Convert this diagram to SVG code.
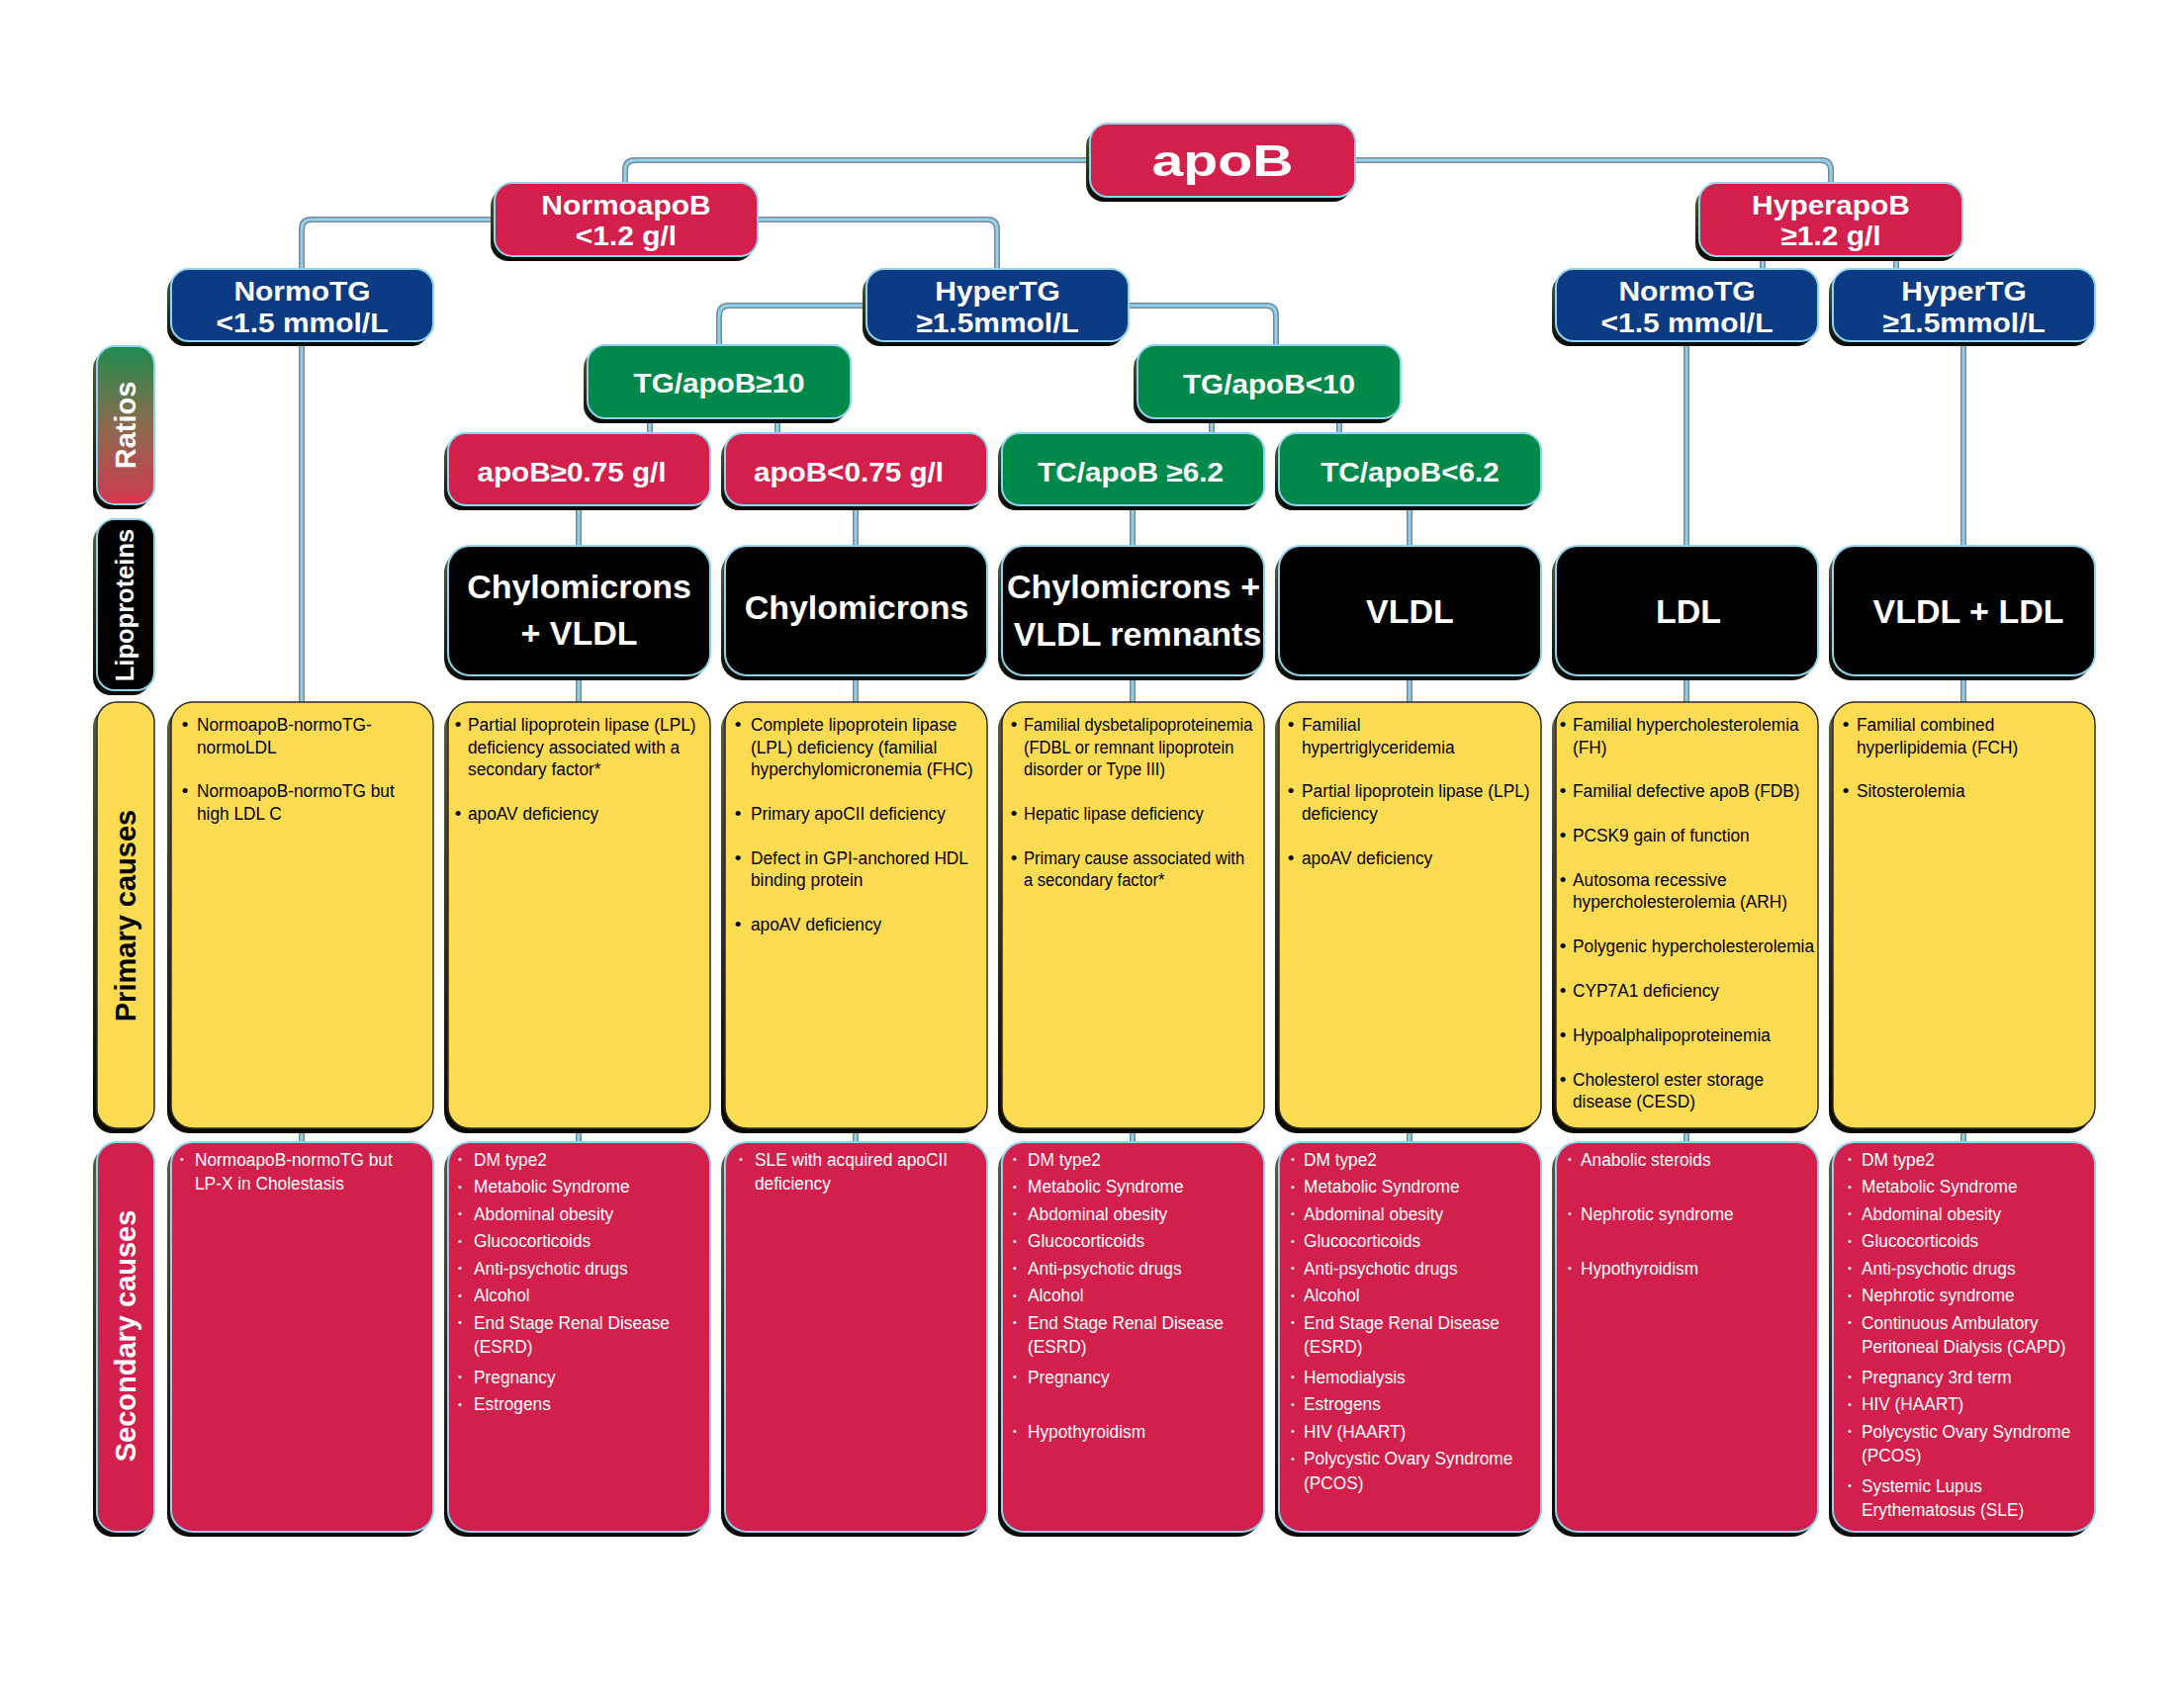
<svg xmlns="http://www.w3.org/2000/svg" xmlns:xlink="http://www.w3.org/1999/xlink" width="2208" height="1706" viewBox="0 0 2208 1706">
<defs>
<style>
.sh{fill:url(#shG)}
.red{fill:#D31F4B;stroke:#8FD3EF;stroke-width:2}
.navy{fill:#0C3B83;stroke:#8FD3EF;stroke-width:2}
.green{fill:#00894A;stroke:#8FD3EF;stroke-width:2}
.blk{fill:#000;stroke:#8FD3EF;stroke-width:2}
.yel{fill:#FEDC52;stroke:#2a2a2a;stroke-width:1.5}
.co{fill:none;stroke:#7A8894;stroke-width:6}
.ci{fill:none;stroke:#8ED2F0;stroke-width:3}
text{font-family:"Liberation Sans",Arial,sans-serif}
.tt{font-size:28px;font-weight:bold;fill:#fff;text-anchor:middle}
.tr{font-size:27px;font-weight:bold;fill:#fff;text-anchor:middle}
.tb{font-size:34px;font-weight:bold;fill:#fff;text-anchor:middle}
.lab{font-size:29px;font-weight:bold;text-anchor:middle}
.tp{font-size:19px;fill:#000}
.ts{font-size:19px;fill:#fff}
.pb{font-size:19px;fill:#000;text-anchor:middle}
.sb{font-size:11px;fill:#fff;text-anchor:middle}
</style>
<linearGradient id="shG" x1="0" y1="0" x2="0" y2="1">
<stop offset="0" stop-color="#55603c"/>
<stop offset="1" stop-color="#080800"/>
</linearGradient>
<linearGradient id="ratG" x1="0" y1="0" x2="0" y2="1">
<stop offset="0" stop-color="#1E8C4E"/>
<stop offset="0.5" stop-color="#8a6a4c"/>
<stop offset="1" stop-color="#D23A52"/>
</linearGradient>
<path id="conn" d="M1102,162 H642 Q632,162 632,172 V185 M1370,162 H1841 Q1851,162 1851,172 V185 M500,222 H315 Q305,222 305,232 V272 M766,222 H998 Q1008,222 1008,232 V272 M876,309 H737 Q727,309 727,319 V349 M1141,309 H1280 Q1290,309 1290,319 V349 M1782,259 V272 M1917,259 V272 M657,423 V438 M786,423 V438 M1225,423 V438 M1354,423 V438 M305,345 V710 M585,511 V552 M865,511 V552 M1145,511 V552 M1425,511 V552 M1705,345 V552 M1985,345 V552 M585,683 V710 M865,683 V710 M1145,683 V710 M1425,683 V710 M1705,683 V710 M1985,683 V710 M305,1141 V1155 M585,1141 V1155 M865,1141 V1155 M1145,1141 V1155 M1425,1141 V1155 M1705,1141 V1155 M1985,1141 V1155"/>
</defs>
<rect width="2208" height="1706" fill="#fff"/>

<g id="connectors">
<use xlink:href="#conn" class="co"/>
<use xlink:href="#conn" class="ci"/>
</g>

<!-- row labels -->
<g id="label-ratios">
<rect class="sh" x="94" y="355" width="58" height="160" rx="18"/>
<rect x="98" y="350" width="58" height="160" rx="18" fill="url(#ratG)" stroke="#8FD3EF" stroke-width="2"/>
<text class="lab" fill="#fff" transform="translate(137,430) rotate(-90)">Ratios</text>
</g>
<g id="label-lipoproteins">
<rect class="sh" x="94" y="530" width="58" height="173" rx="18"/>
<rect class="blk" x="98" y="525" width="58" height="173" rx="18"/>
<text class="lab" fill="#fff" style="font-size:25.5px" transform="translate(135,612) rotate(-90)">Lipoproteins</text>
</g>
<g id="label-primary">
<rect class="sh" x="94" y="715" width="58" height="431" rx="20"/>
<rect class="yel" x="98" y="710" width="58" height="431" rx="20"/>
<text class="lab" fill="#000" transform="translate(137,926) rotate(-90)">Primary causes</text>
</g>
<g id="label-secondary">
<rect class="sh" x="94" y="1160" width="58" height="394" rx="20"/>
<rect class="red" x="98" y="1155" width="58" height="394" rx="20"/>
<text class="lab" fill="#fff" transform="translate(137,1351) rotate(-90)">Secondary causes</text>
</g>

<!-- tree nodes -->
<g id="n-apob">
<rect class="sh" x="1098" y="130" width="268" height="74" rx="18"/>
<rect class="red" x="1102" y="125" width="268" height="74" rx="18"/>
<text class="tt" style="font-size:44px" transform="translate(1236,178) scale(1.3,1)">apoB</text>
</g>
<g id="n-normoapob">
<rect class="sh" x="496" y="190" width="266" height="74" rx="18"/>
<rect class="red" x="500" y="185" width="266" height="74" rx="18"/>
<text class="tt" transform="translate(633,217) scale(1.07,1)">NormoapoB</text>
<text class="tt" transform="translate(633,248) scale(1.07,1)">&lt;1.2 g/l</text>
</g>
<g id="n-hyperapob">
<rect class="sh" x="1714" y="190" width="266" height="74" rx="18"/>
<rect class="red" x="1718" y="185" width="266" height="74" rx="18"/>
<text class="tt" transform="translate(1851,217) scale(1.07,1)">HyperapoB</text>
<text class="tt" transform="translate(1851,248) scale(1.07,1)">≥1.2 g/l</text>
</g>
<g id="n-normotg-1">
<rect class="sh" x="169" y="277" width="265" height="73" rx="18"/>
<rect class="navy" x="173" y="272" width="265" height="73" rx="18"/>
<text class="tt" transform="translate(305.5,304) scale(1.07,1)">NormoTG</text>
<text class="tt" transform="translate(305.5,336) scale(1.07,1)">&lt;1.5 mmol/L</text>
</g>
<g id="n-hypertg-1">
<rect class="sh" x="872" y="277" width="265" height="73" rx="18"/>
<rect class="navy" x="876" y="272" width="265" height="73" rx="18"/>
<text class="tt" transform="translate(1008.5,304) scale(1.07,1)">HyperTG</text>
<text class="tt" transform="translate(1008.5,336) scale(1.07,1)">≥1.5mmol/L</text>
</g>
<g id="n-normotg-2">
<rect class="sh" x="1569" y="277" width="265" height="73" rx="18"/>
<rect class="navy" x="1573" y="272" width="265" height="73" rx="18"/>
<text class="tt" transform="translate(1705.5,304) scale(1.07,1)">NormoTG</text>
<text class="tt" transform="translate(1705.5,336) scale(1.07,1)">&lt;1.5 mmol/L</text>
</g>
<g id="n-hypertg-2">
<rect class="sh" x="1849" y="277" width="265" height="73" rx="18"/>
<rect class="navy" x="1853" y="272" width="265" height="73" rx="18"/>
<text class="tt" transform="translate(1985.5,304) scale(1.07,1)">HyperTG</text>
<text class="tt" transform="translate(1985.5,336) scale(1.07,1)">≥1.5mmol/L</text>
</g>
<g id="n-tg-ge10">
<rect class="sh" x="590" y="354" width="266" height="74" rx="18"/>
<rect class="green" x="594" y="349" width="266" height="74" rx="18"/>
<text class="tr" transform="translate(727,397) scale(1.1,1)">TG/apoB≥10</text>
</g>
<g id="n-tg-lt10">
<rect class="sh" x="1146" y="354" width="266" height="74" rx="18"/>
<rect class="green" x="1150" y="349" width="266" height="74" rx="18"/>
<text class="tr" transform="translate(1283,398) scale(1.1,1)">TG/apoB&lt;10</text>
</g>
<g id="n-apob-ge075">
<rect class="sh" x="449" y="443" width="265" height="73" rx="18"/>
<rect class="red" x="453" y="438" width="265" height="73" rx="18"/>
<text class="tr" transform="translate(578,487) scale(1.1,1)">apoB≥0.75 g/l</text>
</g>
<g id="n-apob-lt075">
<rect class="sh" x="729" y="443" width="265" height="73" rx="18"/>
<rect class="red" x="733" y="438" width="265" height="73" rx="18"/>
<text class="tr" transform="translate(858,487) scale(1.1,1)">apoB&lt;0.75 g/l</text>
</g>
<g id="n-tc-ge62">
<rect class="sh" x="1009" y="443" width="265" height="73" rx="18"/>
<rect class="green" x="1013" y="438" width="265" height="73" rx="18"/>
<text class="tr" transform="translate(1143,487) scale(1.1,1)">TC/apoB ≥6.2</text>
</g>
<g id="n-tc-lt62">
<rect class="sh" x="1289" y="443" width="265" height="73" rx="18"/>
<rect class="green" x="1293" y="438" width="265" height="73" rx="18"/>
<text class="tr" transform="translate(1425.5,487) scale(1.1,1)">TC/apoB&lt;6.2</text>
</g>

<!-- lipoproteins -->
<g id="lp-2">
<rect class="sh" x="449" y="557" width="265" height="131" rx="22"/>
<rect class="blk" x="453" y="552" width="265" height="131" rx="22"/>
<text class="tb" x="585.5" y="605">Chylomicrons</text>
<text class="tb" x="585.5" y="652">+ VLDL</text>
</g>
<g id="lp-3">
<rect class="sh" x="729" y="557" width="265" height="131" rx="22"/>
<rect class="blk" x="733" y="552" width="265" height="131" rx="22"/>
<text class="tb" x="866" y="626">Chylomicrons</text>
</g>
<g id="lp-4">
<rect class="sh" x="1009" y="557" width="265" height="131" rx="22"/>
<rect class="blk" x="1013" y="552" width="265" height="131" rx="22"/>
<text class="tb" x="1146" y="605">Chylomicrons +</text>
<text class="tb" x="1150" y="653">VLDL remnants</text>
</g>
<g id="lp-5">
<rect class="sh" x="1289" y="557" width="265" height="131" rx="22"/>
<rect class="blk" x="1293" y="552" width="265" height="131" rx="22"/>
<text class="tb" x="1425.5" y="630">VLDL</text>
</g>
<g id="lp-6">
<rect class="sh" x="1569" y="557" width="265" height="131" rx="22"/>
<rect class="blk" x="1573" y="552" width="265" height="131" rx="22"/>
<text class="tb" x="1707" y="630">LDL</text>
</g>
<g id="lp-7">
<rect class="sh" x="1849" y="557" width="265" height="131" rx="22"/>
<rect class="blk" x="1853" y="552" width="265" height="131" rx="22"/>
<text class="tb" x="1990" y="630">VLDL + LDL</text>
</g>

<!-- primary causes -->
<g id="pc-1">
<rect class="sh" x="169" y="715" width="265" height="431" rx="22"/>
<rect class="yel" x="173" y="710" width="265" height="431" rx="22"/>
<text class="pb" x="187" y="739">•</text><text class="pb" x="187" y="806">•</text>
<g transform="translate(199,0) scale(0.91,1)">
<text class="tp" y="739">NormoapoB-normoTG-</text>
<text class="tp" y="762">normoLDL</text>
<text class="tp" y="806">NormoapoB-normoTG but</text>
<text class="tp" y="829">high LDL C</text>
</g>
</g>
<g id="pc-2">
<rect class="sh" x="449" y="715" width="265" height="431" rx="22"/>
<rect class="yel" x="453" y="710" width="265" height="431" rx="22"/>
<text class="pb" x="463" y="739">•</text><text class="pb" x="463" y="829">•</text>
<g transform="translate(473,0) scale(0.91,1)">
<text class="tp" y="739">Partial lipoprotein lipase (LPL)</text>
<text class="tp" y="762">deficiency associated with a</text>
<text class="tp" y="784">secondary factor*</text>
<text class="tp" y="829">apoAV deficiency</text>
</g>
</g>
<g id="pc-3">
<rect class="sh" x="729" y="715" width="265" height="431" rx="22"/>
<rect class="yel" x="733" y="710" width="265" height="431" rx="22"/>
<text class="pb" x="746" y="739">•</text><text class="pb" x="746" y="829">•</text><text class="pb" x="746" y="874">•</text><text class="pb" x="746" y="941">•</text>
<g transform="translate(759,0) scale(0.91,1)">
<text class="tp" y="739">Complete lipoprotein lipase</text>
<text class="tp" y="762">(LPL) deficiency (familial</text>
<text class="tp" y="784">hyperchylomicronemia (FHC)</text>
<text class="tp" y="829">Primary apoCII deficiency</text>
<text class="tp" y="874">Defect in GPI-anchored HDL</text>
<text class="tp" y="896">binding protein</text>
<text class="tp" y="941">apoAV deficiency</text>
</g>
</g>
<g id="pc-4">
<rect class="sh" x="1009" y="715" width="265" height="431" rx="22"/>
<rect class="yel" x="1013" y="710" width="265" height="431" rx="22"/>
<text class="pb" x="1025" y="739">•</text><text class="pb" x="1025" y="829">•</text><text class="pb" x="1025" y="874">•</text>
<g transform="translate(1035,0) scale(0.87,1)">
<text class="tp" y="739">Familial dysbetalipoproteinemia</text>
<text class="tp" y="762">(FDBL or remnant lipoprotein</text>
<text class="tp" y="784">disorder or Type III)</text>
<text class="tp" y="829">Hepatic lipase deficiency</text>
<text class="tp" y="874">Primary cause associated with</text>
<text class="tp" y="896">a secondary factor*</text>
</g>
</g>
<g id="pc-5">
<rect class="sh" x="1289" y="715" width="265" height="431" rx="22"/>
<rect class="yel" x="1293" y="710" width="265" height="431" rx="22"/>
<text class="pb" x="1305" y="739">•</text><text class="pb" x="1305" y="806">•</text><text class="pb" x="1305" y="874">•</text>
<g transform="translate(1316,0) scale(0.91,1)">
<text class="tp" y="739">Familial</text>
<text class="tp" y="762">hypertriglyceridemia</text>
<text class="tp" y="806">Partial lipoprotein lipase (LPL)</text>
<text class="tp" y="829">deficiency</text>
<text class="tp" y="874">apoAV deficiency</text>
</g>
</g>
<g id="pc-6">
<rect class="sh" x="1569" y="715" width="265" height="431" rx="22"/>
<rect class="yel" x="1573" y="710" width="265" height="431" rx="22"/>
<text class="pb" x="1580" y="739">•</text><text class="pb" x="1580" y="806">•</text><text class="pb" x="1580" y="851">•</text><text class="pb" x="1580" y="896">•</text><text class="pb" x="1580" y="963">•</text><text class="pb" x="1580" y="1008">•</text><text class="pb" x="1580" y="1053">•</text><text class="pb" x="1580" y="1098">•</text>
<g transform="translate(1590,0) scale(0.91,1)">
<text class="tp" y="739">Familial hypercholesterolemia</text>
<text class="tp" y="762">(FH)</text>
<text class="tp" y="806">Familial defective apoB (FDB)</text>
<text class="tp" y="851">PCSK9 gain of function</text>
<text class="tp" y="896">Autosoma recessive</text>
<text class="tp" y="918">hypercholesterolemia (ARH)</text>
<text class="tp" y="963">Polygenic hypercholesterolemia</text>
<text class="tp" y="1008">CYP7A1 deficiency</text>
<text class="tp" y="1053">Hypoalphalipoproteinemia</text>
<text class="tp" y="1098">Cholesterol ester storage</text>
<text class="tp" y="1120">disease (CESD)</text>
</g>
</g>
<g id="pc-7">
<rect class="sh" x="1849" y="715" width="265" height="431" rx="22"/>
<rect class="yel" x="1853" y="710" width="265" height="431" rx="22"/>
<text class="pb" x="1866" y="739">•</text><text class="pb" x="1866" y="806">•</text>
<g transform="translate(1877,0) scale(0.91,1)">
<text class="tp" y="739">Familial combined</text>
<text class="tp" y="762">hyperlipidemia (FCH)</text>
<text class="tp" y="806">Sitosterolemia</text>
</g>
</g>

<!-- secondary causes -->
<g id="sc-1">
<rect class="sh" x="169" y="1160" width="265" height="394" rx="22"/>
<rect class="red" x="173" y="1155" width="265" height="394" rx="22"/>
<text class="sb" x="184" y="1176">•</text>
<g transform="translate(197,0) scale(0.91,1)">
<text class="ts" y="1179">NormoapoB-normoTG but</text>
<text class="ts" y="1203.5">LP-X in Cholestasis</text>
</g>
</g>
<g id="sc-2">
<rect class="sh" x="449" y="1160" width="265" height="394" rx="22"/>
<rect class="red" x="453" y="1155" width="265" height="394" rx="22"/>
<g transform="translate(465,0)">
<text class="sb" y="1176">•</text><text class="sb" y="1203.5">•</text><text class="sb" y="1231">•</text><text class="sb" y="1258.5">•</text><text class="sb" y="1286">•</text><text class="sb" y="1313.5">•</text><text class="sb" y="1341">•</text><text class="sb" y="1396">•</text><text class="sb" y="1423.5">•</text>
</g>
<g transform="translate(479,0) scale(0.91,1)">
<text class="ts" y="1179">DM type2</text>
<text class="ts" y="1206.5">Metabolic Syndrome</text>
<text class="ts" y="1234">Abdominal obesity</text>
<text class="ts" y="1261.5">Glucocorticoids</text>
<text class="ts" y="1289">Anti-psychotic drugs</text>
<text class="ts" y="1316.5">Alcohol</text>
<text class="ts" y="1344">End Stage Renal Disease</text>
<text class="ts" y="1368.5">(ESRD)</text>
<text class="ts" y="1399">Pregnancy</text>
<text class="ts" y="1426.5">Estrogens</text>
</g>
</g>
<g id="sc-3">
<rect class="sh" x="729" y="1160" width="265" height="394" rx="22"/>
<rect class="red" x="733" y="1155" width="265" height="394" rx="22"/>
<text class="sb" x="749" y="1176">•</text>
<g transform="translate(763,0) scale(0.91,1)">
<text class="ts" y="1179">SLE with acquired apoCII</text>
<text class="ts" y="1203.5">deficiency</text>
</g>
</g>
<g id="sc-4">
<rect class="sh" x="1009" y="1160" width="265" height="394" rx="22"/>
<rect class="red" x="1013" y="1155" width="265" height="394" rx="22"/>
<g transform="translate(1026,0)">
<text class="sb" y="1176">•</text><text class="sb" y="1203.5">•</text><text class="sb" y="1231">•</text><text class="sb" y="1258.5">•</text><text class="sb" y="1286">•</text><text class="sb" y="1313.5">•</text><text class="sb" y="1341">•</text><text class="sb" y="1396">•</text><text class="sb" y="1451">•</text>
</g>
<g transform="translate(1039,0) scale(0.91,1)">
<text class="ts" y="1179">DM type2</text>
<text class="ts" y="1206.5">Metabolic Syndrome</text>
<text class="ts" y="1234">Abdominal obesity</text>
<text class="ts" y="1261.5">Glucocorticoids</text>
<text class="ts" y="1289">Anti-psychotic drugs</text>
<text class="ts" y="1316.5">Alcohol</text>
<text class="ts" y="1344">End Stage Renal Disease</text>
<text class="ts" y="1368.5">(ESRD)</text>
<text class="ts" y="1399">Pregnancy</text>
<text class="ts" y="1454">Hypothyroidism</text>
</g>
</g>
<g id="sc-5">
<rect class="sh" x="1289" y="1160" width="265" height="394" rx="22"/>
<rect class="red" x="1293" y="1155" width="265" height="394" rx="22"/>
<g transform="translate(1307,0)">
<text class="sb" y="1176">•</text><text class="sb" y="1203.5">•</text><text class="sb" y="1231">•</text><text class="sb" y="1258.5">•</text><text class="sb" y="1286">•</text><text class="sb" y="1313.5">•</text><text class="sb" y="1341">•</text><text class="sb" y="1396">•</text><text class="sb" y="1423.5">•</text><text class="sb" y="1451">•</text><text class="sb" y="1478.5">•</text>
</g>
<g transform="translate(1318,0) scale(0.91,1)">
<text class="ts" y="1179">DM type2</text>
<text class="ts" y="1206.5">Metabolic Syndrome</text>
<text class="ts" y="1234">Abdominal obesity</text>
<text class="ts" y="1261.5">Glucocorticoids</text>
<text class="ts" y="1289">Anti-psychotic drugs</text>
<text class="ts" y="1316.5">Alcohol</text>
<text class="ts" y="1344">End Stage Renal Disease</text>
<text class="ts" y="1368.5">(ESRD)</text>
<text class="ts" y="1399">Hemodialysis</text>
<text class="ts" y="1426.5">Estrogens</text>
<text class="ts" y="1454">HIV (HAART)</text>
<text class="ts" y="1481.5">Polycystic Ovary Syndrome</text>
<text class="ts" y="1506">(PCOS)</text>
</g>
</g>
<g id="sc-6">
<rect class="sh" x="1569" y="1160" width="265" height="394" rx="22"/>
<rect class="red" x="1573" y="1155" width="265" height="394" rx="22"/>
<g transform="translate(1587,0)">
<text class="sb" y="1176">•</text><text class="sb" y="1231">•</text><text class="sb" y="1286">•</text>
</g>
<g transform="translate(1598,0) scale(0.91,1)">
<text class="ts" y="1179">Anabolic steroids</text>
<text class="ts" y="1234">Nephrotic syndrome</text>
<text class="ts" y="1289">Hypothyroidism</text>
</g>
</g>
<g id="sc-7">
<rect class="sh" x="1849" y="1160" width="265" height="394" rx="22"/>
<rect class="red" x="1853" y="1155" width="265" height="394" rx="22"/>
<g transform="translate(1870,0)">
<text class="sb" y="1176">•</text><text class="sb" y="1203.5">•</text><text class="sb" y="1231">•</text><text class="sb" y="1258.5">•</text><text class="sb" y="1286">•</text><text class="sb" y="1313.5">•</text><text class="sb" y="1341">•</text><text class="sb" y="1396">•</text><text class="sb" y="1423.5">•</text><text class="sb" y="1451">•</text><text class="sb" y="1506">•</text>
</g>
<g transform="translate(1882,0) scale(0.91,1)">
<text class="ts" y="1179">DM type2</text>
<text class="ts" y="1206.5">Metabolic Syndrome</text>
<text class="ts" y="1234">Abdominal obesity</text>
<text class="ts" y="1261.5">Glucocorticoids</text>
<text class="ts" y="1289">Anti-psychotic drugs</text>
<text class="ts" y="1316.5">Nephrotic syndrome</text>
<text class="ts" y="1344">Continuous Ambulatory</text>
<text class="ts" y="1368.5">Peritoneal Dialysis (CAPD)</text>
<text class="ts" y="1399">Pregnancy 3rd term</text>
<text class="ts" y="1426.5">HIV (HAART)</text>
<text class="ts" y="1454">Polycystic Ovary Syndrome</text>
<text class="ts" y="1478.5">(PCOS)</text>
<text class="ts" y="1509">Systemic Lupus</text>
<text class="ts" y="1533.5">Erythematosus (SLE)</text>
</g>
</g>
</svg>
